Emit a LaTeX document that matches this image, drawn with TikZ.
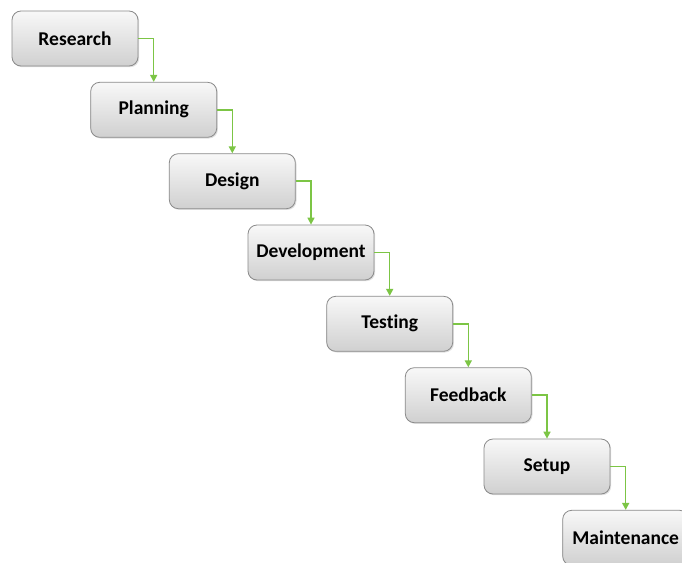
\documentclass[tikz,border=0pt]{standalone}
\usepackage{fontspec}
\setmainfont[Ligatures={NoCommon,NoContextual}]{Carlito}
\usetikzlibrary{shadows,arrows.meta}
\definecolor{boxline}{HTML}{8A8A8A}
\definecolor{boxtop}{HTML}{F8F8F8}
\definecolor{boxbot}{HTML}{D0D0D0}
\definecolor{arrowgreen}{HTML}{7CC545}
\tikzset{
  stepbox/.style={draw=boxline, line width=0.8pt, rounded corners=9pt,
    top color=boxtop, bottom color=boxbot,
    minimum width=126pt, minimum height=55pt, inner sep=0pt,
    font=\fontsize{19.5}{22}\selectfont\bfseries, text=black,
    drop shadow={opacity=0.25, shadow xshift=1.2pt, shadow yshift=-1.2pt}},
  flow/.style={draw=arrowgreen, line width=1.5pt,
    -{Triangle[length=7pt,width=7pt]}}
}
\begin{document}
\begin{tikzpicture}[x=1pt,y=-1pt]
\useasboundingbox (0,0) rectangle (682,562);
\clip (0,0) rectangle (682,562);
\fill[white] (0,0) rectangle (682,562);
\node[stepbox] (r) at (75,38.5) {Research};
\node[stepbox] (p) at (153.7,109.8) {Planning};
\node[stepbox] (d) at (232.3,181.2) {Design};
\node[stepbox] (v) at (311,252.5) {Development};
\node[stepbox] (t) at (389.7,323.8) {Testing};
\node[stepbox] (f) at (468.3,395.2) {Feedback};
\node[stepbox] (s) at (547,466.5) {Setup};
\node[stepbox] (m) at (625.7,537.8) {Maintenance};
\draw[flow] (r.east) -| (p.north);
\draw[flow] (p.east) -| (d.north);
\draw[flow] (d.east) -| (v.north);
\draw[flow] (v.east) -| (t.north);
\draw[flow] (t.east) -| (f.north);
\draw[flow] (f.east) -| (s.north);
\draw[flow] (s.east) -| (m.north);
\end{tikzpicture}
\end{document}
